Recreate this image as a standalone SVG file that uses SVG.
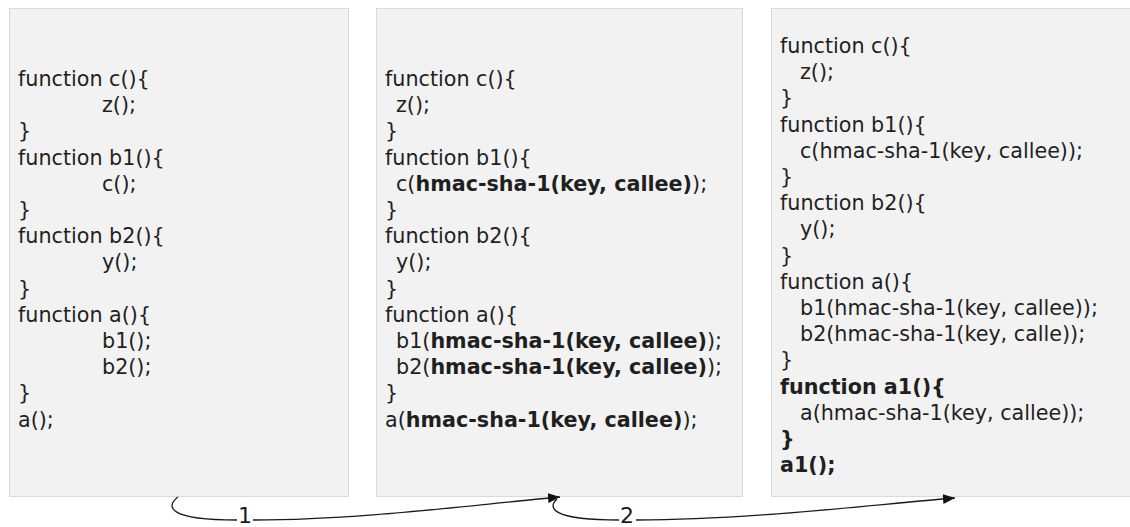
<svg xmlns="http://www.w3.org/2000/svg" width="1130" height="527" viewBox="0 0 1130 527">
  <style>
    .panel { fill: #f2f2f2; stroke: #dadada; stroke-width: 1; }
    .code { font-family: "DejaVu Sans", "Liberation Sans", sans-serif; font-size: 20.7px; fill: #1f1f1f; }
    .b { font-weight: bold; }
    .wire { fill: none; stroke: #1a1a1a; stroke-width: 1.3; }
    .step { font-family: "DejaVu Sans", "Liberation Sans", sans-serif; font-size: 22px; fill: #1a1a1a; text-anchor: middle; }
  </style>
  <defs>
    <marker id="head" viewBox="0 0 12 10" refX="12" refY="5" markerWidth="12" markerHeight="10" markerUnits="userSpaceOnUse" orient="auto">
      <path d="M0,0 L12,5 L0,10 Z" fill="#111"/>
    </marker>
  </defs>

  <!-- original program -->
  <g id="panel-original">
    <rect class="panel" x="9.5" y="8.5" width="339" height="488"/>
    <g class="code">
      <text x="18" y="86">function c(){</text>
      <text x="102" y="112.2">z();</text>
      <text x="18" y="138.4">}</text>
      <text x="18" y="164.6">function b1(){</text>
      <text x="102" y="190.8">c();</text>
      <text x="18" y="217">}</text>
      <text x="18" y="243.2">function b2(){</text>
      <text x="102" y="269.4">y();</text>
      <text x="18" y="295.6">}</text>
      <text x="18" y="321.8">function a(){</text>
      <text x="102" y="348">b1();</text>
      <text x="102" y="374.2">b2();</text>
      <text x="18" y="400.4">}</text>
      <text x="18" y="426.6">a();</text>
    </g>
  </g>

  <!-- calls carrying hmac of the callee -->
  <g id="panel-hmac">
    <rect class="panel" x="376.5" y="8.5" width="366" height="488"/>
    <g class="code">
      <text x="385" y="86">function c(){</text>
      <text x="396" y="112.2">z();</text>
      <text x="385" y="138.4">}</text>
      <text x="385" y="164.6">function b1(){</text>
      <text x="396" y="190.8">c(<tspan class="b">hmac-sha-1(key, callee)</tspan>);</text>
      <text x="385" y="217">}</text>
      <text x="385" y="243.2">function b2(){</text>
      <text x="396" y="269.4">y();</text>
      <text x="385" y="295.6">}</text>
      <text x="385" y="321.8">function a(){</text>
      <text x="396" y="348">b1(<tspan class="b">hmac-sha-1(key, callee)</tspan>);</text>
      <text x="396" y="374.2">b2(<tspan class="b">hmac-sha-1(key, callee)</tspan>);</text>
      <text x="385" y="400.4">}</text>
      <text x="385" y="426.6">a(<tspan class="b">hmac-sha-1(key, callee)</tspan>);</text>
    </g>
  </g>

  <!-- wrapped entry point a1 -->
  <g id="panel-wrapped">
    <rect class="panel" x="771.5" y="8.5" width="370" height="488"/>
    <g class="code">
      <text x="780" y="53">function c(){</text>
      <text x="800" y="79.2">z();</text>
      <text x="780" y="105.4">}</text>
      <text x="780" y="131.6">function b1(){</text>
      <text x="800" y="157.8">c(hmac-sha-1(key, callee));</text>
      <text x="780" y="184">}</text>
      <text x="780" y="210.2">function b2(){</text>
      <text x="800" y="236.4">y();</text>
      <text x="780" y="262.6">}</text>
      <text x="780" y="288.8">function a(){</text>
      <text x="800" y="315">b1(hmac-sha-1(key, callee));</text>
      <text x="800" y="341.2">b2(hmac-sha-1(key, calle));</text>
      <text x="780" y="367.4">}</text>
      <text x="780" y="393.6" class="b">function a1(){</text>
      <text x="800" y="419.8">a(hmac-sha-1(key, callee));</text>
      <text x="780" y="446" class="b">}</text>
      <text x="780" y="472.2" class="b">a1();</text>
    </g>
  </g>

  <!-- transformation steps -->
  <g id="connectors">
    <path class="wire" d="M178,497 C166,506 166,520 237,520"/>
    <path class="wire" d="M253,520 C360,520 470,505 560,497" marker-end="url(#head)"/>
    <text class="step" x="245" y="523">1</text>
    <path class="wire" d="M557,499 C547,508 552,520 619,520"/>
    <path class="wire" d="M636,520 C745,520 860,506 955,498" marker-end="url(#head)"/>
    <text class="step" x="627" y="523">2</text>
  </g>
</svg>
